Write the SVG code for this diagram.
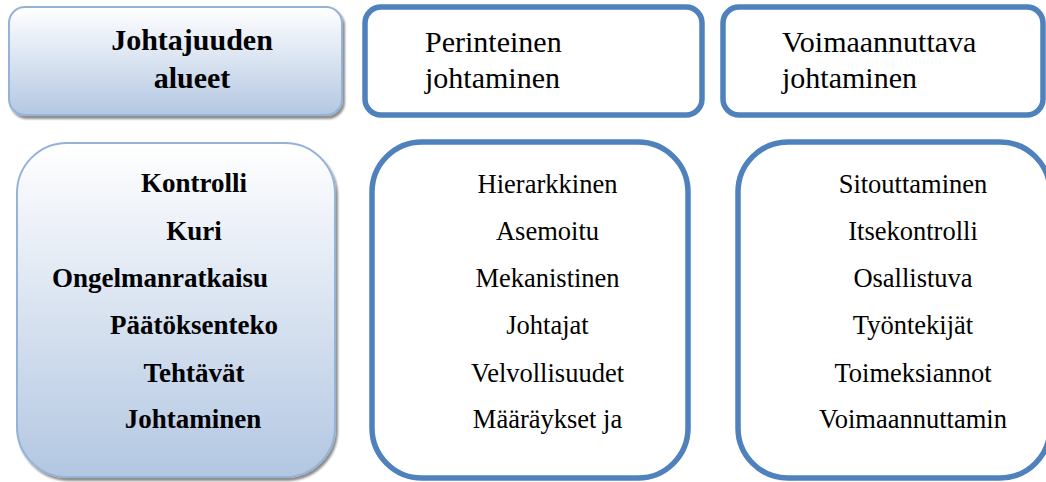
<svg xmlns="http://www.w3.org/2000/svg" width="1046" height="482" viewBox="0 0 1046 482">
  <defs>
    <linearGradient id="blueFill" x1="0" y1="0" x2="0" y2="1">
      <stop offset="0" stop-color="#ffffff"/>
      <stop offset="1" stop-color="#b3c7e2"/>
    </linearGradient>
    <filter id="shadow" x="-5%" y="-5%" width="115%" height="115%">
      <feGaussianBlur in="SourceAlpha" stdDeviation="1.2"/>
      <feOffset dx="2" dy="3" result="b"/>
      <feComponentTransfer><feFuncA type="linear" slope="0.45"/></feComponentTransfer>
      <feMerge><feMergeNode/><feMergeNode in="SourceGraphic"/></feMerge>
    </filter>
  </defs>
  <style>
    .soft { fill: url(#blueFill); stroke: #95b3d7; stroke-width: 2; filter: url(#shadow); }
    .outline { fill: #ffffff; stroke: #4f81bd; stroke-width: 5.5; }
    .hb { font-family: "Liberation Serif", "Times New Roman", serif; font-weight: bold; font-size: 30px; fill: #000; text-anchor: middle; }
    .hr { font-family: "Liberation Serif", "Times New Roman", serif; font-size: 30px; fill: #000; }
    .lb { font-family: "Liberation Serif", "Times New Roman", serif; font-weight: bold; font-size: 27px; fill: #000; text-anchor: middle; }
    .lr { font-family: "Liberation Serif", "Times New Roman", serif; font-size: 26.5px; fill: #000; text-anchor: middle; }
  </style>
  <rect width="1046" height="482" fill="#ffffff"/>

  <g id="header-areas">
    <rect class="soft" x="9" y="7" width="333" height="108" rx="16"/>
    <text class="hb" x="192" y="50">Johtajuuden</text>
    <text class="hb" x="192" y="88">alueet</text>
  </g>

  <g id="header-traditional">
    <rect class="outline" x="365" y="7" width="337" height="108" rx="16"/>
    <text class="hr" x="425" y="52">Perinteinen</text>
    <text class="hr" x="425" y="88">johtaminen</text>
  </g>

  <g id="header-empowering">
    <rect class="outline" x="723" y="7" width="320" height="108" rx="16"/>
    <text class="hr" x="782" y="52">Voimaannuttava</text>
    <text class="hr" x="782" y="88">johtaminen</text>
  </g>

  <g id="areas-list">
    <rect class="soft" x="17" y="143" width="318" height="334" rx="50"/>
    <text class="lb" x="194" y="192">Kontrolli</text>
    <text class="lb" x="194" y="240">Kuri</text>
    <text class="lb" x="160" y="287">Ongelmanratkaisu</text>
    <text class="lb" x="194" y="334">Päätöksenteko</text>
    <text class="lb" x="194" y="382">Tehtävät</text>
    <text class="lb" x="193" y="428">Johtaminen</text>
  </g>

  <g id="traditional-list">
    <rect class="outline" x="372" y="142" width="316" height="336" rx="50"/>
    <text class="lr" x="547.5" y="193">Hierarkkinen</text>
    <text class="lr" x="547.5" y="240">Asemoitu</text>
    <text class="lr" x="547.5" y="287">Mekanistinen</text>
    <text class="lr" x="547.5" y="334">Johtajat</text>
    <text class="lr" x="547.5" y="382">Velvollisuudet</text>
    <text class="lr" x="547.5" y="428">Määräykset ja</text>
  </g>

  <g id="empowering-list">
    <rect class="outline" x="738" y="142" width="312" height="336" rx="50"/>
    <text class="lr" x="913" y="193">Sitouttaminen</text>
    <text class="lr" x="913" y="240">Itsekontrolli</text>
    <text class="lr" x="913" y="287">Osallistuva</text>
    <text class="lr" x="913" y="334">Työntekijät</text>
    <text class="lr" x="913" y="382">Toimeksiannot</text>
    <text class="lr" x="913" y="428">Voimaannuttamin</text>
  </g>

  <g id="connectors"/>
</svg>
